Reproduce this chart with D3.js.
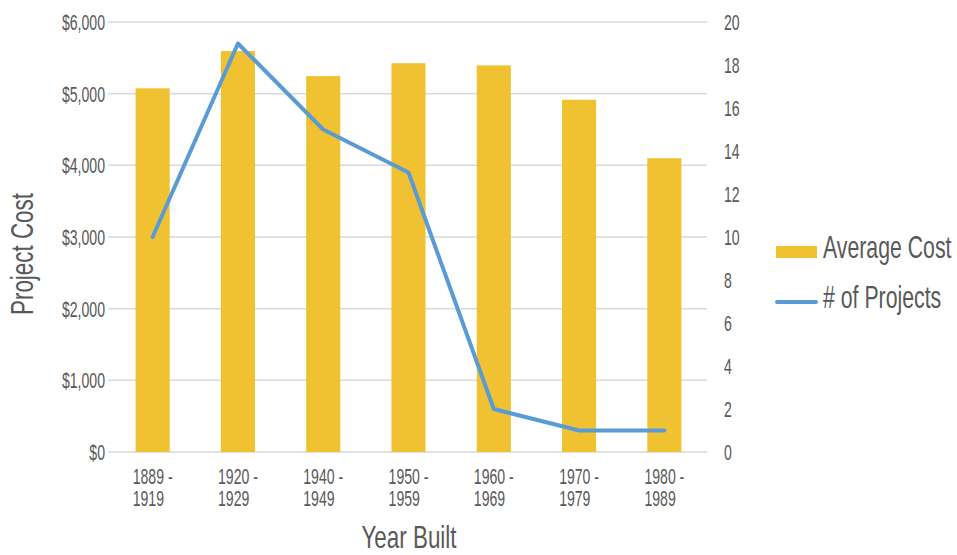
<!DOCTYPE html>
<html>
<head>
<meta charset="utf-8">
<script src="https://cdn.jsdelivr.net/npm/d3@7"></script>
<style>
  body { margin:0; background:#fff; }
  svg text { font-family:"Liberation Sans",Arial,sans-serif; fill:#595959; }
</style>
</head>
<body>
<div id="chart"></div>
<script>
var periods = [["1889 -","1919"],["1920 -","1929"],["1940 -","1949"],["1950 -","1959"],["1960 -","1969"],["1970 -","1979"],["1980 -","1989"]];
var avgCost = [5075, 5595, 5245, 5425, 5395, 4915, 4100];
var numProjects = [10, 19, 15, 13, 2, 1, 1];
var costTicks = [0, 1000, 2000, 3000, 4000, 5000, 6000];
var countTicks = [0, 2, 4, 6, 8, 10, 12, 14, 16, 18, 20];

var width = 957, height = 555;
var m = {top:22, right:250, bottom:103, left:110};
var cols = {bar:"#f0c232", line:"#5b9bd5", grid:"#d9d9d9"};
var sq = 0.64; //horizontal squeeze to fake a condensed face

var svg = d3.select("#chart").append("svg").attr("width", width).attr("height", height);

//condensed text helper: g at position, text squeezed in x
function ctext(parent, x, y, str, size, anchor, rot, s){
	s = s || sq;
	var g = parent.append("g").attr("transform", "translate(" + x + "," + y + ")" + (rot ? " rotate(" + rot + ")" : "") + " scale(" + s + ",1)");
	return g.append("text").attr("text-anchor", anchor || "start").style("font-size", size + "px").text(str);
}

var keys = periods.map(function(d){ return d.join(" "); });
var x = d3.scaleBand().domain(keys).range([m.left, width - m.right]).paddingInner(0.6).paddingOuter(0.3);
var y = d3.scaleLinear().domain([0, 6000]).range([height - m.bottom, m.top]);
var y2 = d3.scaleLinear().domain([0, 20]).range([height - m.bottom, m.top]);

//grid lines
svg.selectAll("line.grid").data(costTicks).enter().append("line").classed("grid", true)
   .attr("x1", m.left - 2).attr("x2", width - m.right)
   .attr("y1", function(d){ return y(d); }).attr("y2", function(d){ return y(d); })
   .attr("stroke", cols.grid).attr("stroke-width", 1.5);

//left ticks
costTicks.forEach(function(d){
	ctext(svg, m.left - 5, y(d) + 8, "$" + d3.format(",")(d), 22, "end");
});

//right ticks
countTicks.forEach(function(d){
	ctext(svg, width - m.right + 17, y2(d) + 8, d, 22, "start");
});

//bars
svg.selectAll("rect.bar").data(avgCost).enter().append("rect").classed("bar", true)
   .attr("x", function(d, i){ return x(keys[i]); })
   .attr("width", x.bandwidth())
   .attr("y", function(d){ return y(d); })
   .attr("height", function(d){ return y(0) - y(d); })
   .attr("fill", cols.bar);

//x labels, two lines left aligned in one text, block centred under bar
periods.forEach(function(d, i){
	var cx = x(keys[i]) + x.bandwidth()/2;
	var t = ctext(svg, cx, y(0) + 32, "", 22, "start");
	var t1 = t.append("tspan").attr("x", 0).text(d[0]);
	t.append("tspan").attr("x", 0).attr("dy", 22).text(d[1]);
	var w = t1.node().getComputedTextLength() * sq;
	t.node().parentNode.setAttribute("transform", "translate(" + (cx - w/2) + "," + (y(0) + 32) + ") scale(" + sq + ",1)");
});

//line
var line = d3.line()
   .x(function(d, i){ return x(keys[i]) + x.bandwidth()/2; })
   .y(function(d){ return y2(d); });
svg.append("path").datum(numProjects).attr("d", line)
   .attr("fill", "none").attr("stroke", cols.line).attr("stroke-width", 4)
   .attr("stroke-linejoin", "round").attr("stroke-linecap", "round");

//axis titles
ctext(svg, 409, 548, "Year Built", 32, "middle", 0, 0.7);
ctext(svg, 33, 254, "Project Cost", 32, "middle", -90, 0.7);

//legend
svg.append("rect").attr("x", 776).attr("y", 246).attr("width", 41).attr("height", 12).attr("fill", cols.bar);
ctext(svg, 823, 258, "Average Cost", 32, "start", 0, 0.665);
svg.append("line").attr("x1", 777).attr("x2", 816).attr("y1", 302).attr("y2", 302)
   .attr("stroke", cols.line).attr("stroke-width", 4).attr("stroke-linecap", "round");
ctext(svg, 823, 308, "# of Projects", 32, "start", 0, 0.665);
</script>
</body>
</html>
